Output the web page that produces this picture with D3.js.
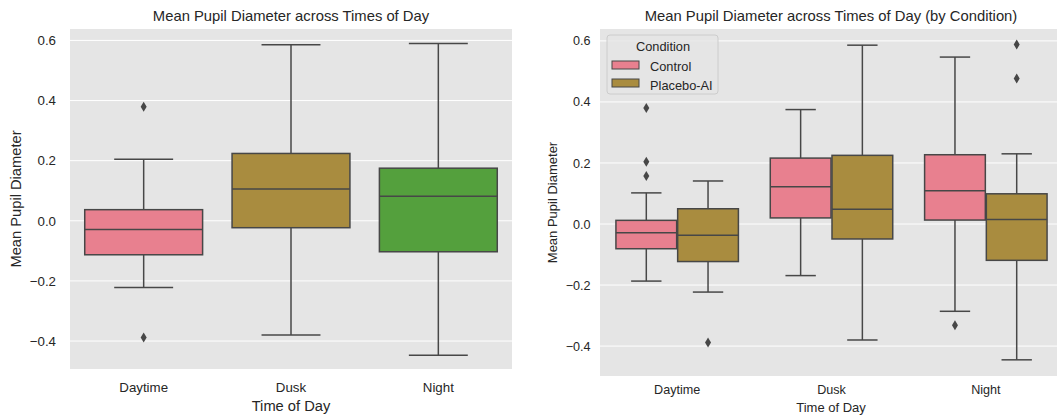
<!DOCTYPE html>
<html>
<head>
<meta charset="utf-8">
<title>Mean Pupil Diameter</title>
<style>
  body { margin: 0; background: #fff; }
  text { font-family: "Liberation Sans", Arial, sans-serif; fill: #262626; }
</style>
</head>
<body>
<svg width="1057" height="417" id="mainsvg"></svg>
<script src="https://d3js.org/d3.v7.min.js"></script>
<script>
// categories
const times = ['Daytime', 'Dusk', 'Night'];
const conditions = ['Control', 'Placebo-AI'];
const yTicks = [-0.4, -0.2, 0.0, 0.2, 0.4, 0.6];

// left panel: one box per time of day
const allLow    = [-0.222, -0.380, -0.447];
const allQ1     = [-0.113, -0.023, -0.103];
const allMedian = [-0.029,  0.106,  0.082];
const allQ3     = [ 0.037,  0.224,  0.175];
const allHigh   = [ 0.205,  0.586,  0.590];
const allOut    = [[0.379, -0.388], [], []];

// right panel: [Control, Placebo-AI] for each time of day
const condLow    = [[-0.187, -0.223], [-0.169, -0.380], [-0.286, -0.445]];
const condQ1     = [[-0.081, -0.123], [ 0.020, -0.049], [ 0.013, -0.119]];
const condMedian = [[-0.029, -0.037], [ 0.122,  0.048], [ 0.109,  0.015]];
const condQ3     = [[ 0.012,  0.050], [ 0.216,  0.225], [ 0.227,  0.099]];
const condHigh   = [[ 0.102,  0.141], [ 0.375,  0.586], [ 0.547,  0.230]];
const condOut    = [[[0.380, 0.204, 0.157], [-0.388]], [[], []], [[-0.332], [0.588, 0.477]]];

const timeColors = ['#e8808f', '#a98c3f', '#54a03d'];
const condColors = ['#e8808f', '#a98c3f'];
const lineColor = '#474747';

const svg = d3.select('#mainsvg');

function panel(opts) {
    const g = svg.append('g');
    const x = d3.scaleBand().domain(times).range([opts.x0, opts.x1]);
    const y = d3.scaleLinear().domain(opts.yDomain).range([opts.y1, opts.y0]);

    g.append('rect')
        .attr('x', opts.x0).attr('y', opts.y0)
        .attr('width', opts.x1 - opts.x0).attr('height', opts.y1 - opts.y0)
        .attr('fill', '#e5e5e5');

    g.selectAll('.grid').data(yTicks).join('line')
        .attr('x1', opts.x0).attr('x2', opts.x1)
        .attr('y1', d => y(d)).attr('y2', d => y(d))
        .attr('stroke', '#fff').attr('stroke-width', 1);

    const yAxis = g.append('g')
        .attr('transform', `translate(${opts.x0},0)`)
        .call(d3.axisLeft(y).tickValues(yTicks).tickSize(0).tickPadding(opts.yPad)
            .tickFormat(d => d3.format('.1f')(d).replace('-', '\u2212')));
    yAxis.select('.domain').remove();
    yAxis.selectAll('text').attr('font-size', opts.tickSize).attr('fill', '#262626')
        .style('font-family', '"Liberation Sans", Arial, sans-serif');

    const xAxis = g.append('g')
        .attr('transform', `translate(0,${opts.y1})`)
        .call(d3.axisBottom(x).tickSize(0).tickPadding(opts.xPad));
    xAxis.select('.domain').remove();
    xAxis.selectAll('text').attr('font-size', opts.tickSize).attr('fill', '#262626')
        .style('font-family', '"Liberation Sans", Arial, sans-serif');

    g.append('text').text(opts.title)
        .attr('x', opts.titleX).attr('y', 21)
        .attr('text-anchor', 'middle').attr('font-size', 14.8);
    g.append('text').text('Time of Day')
        .attr('x', opts.titleX).attr('y', opts.xLabelY)
        .attr('text-anchor', 'middle').attr('font-size', opts.labelSize);
    g.append('text').text('Mean Pupil Diameter')
        .attr('transform', `translate(${opts.yLabelX},${(opts.y0 + opts.y1) / 2}) rotate(-90)`)
        .attr('text-anchor', 'middle').attr('font-size', opts.labelSize);

    return { g, x, y };
}

function drawBox(g, y, cx, w, low, q1, med, q3, high, outs, color) {
    const cap = w / 2;
    g.append('line').attr('x1', cx).attr('x2', cx).attr('y1', y(q3)).attr('y2', y(high))
        .attr('stroke', lineColor).attr('stroke-width', 1.5);
    g.append('line').attr('x1', cx).attr('x2', cx).attr('y1', y(q1)).attr('y2', y(low))
        .attr('stroke', lineColor).attr('stroke-width', 1.5);
    g.append('line').attr('x1', cx - cap / 2).attr('x2', cx + cap / 2).attr('y1', y(high)).attr('y2', y(high))
        .attr('stroke', lineColor).attr('stroke-width', 1.5);
    g.append('line').attr('x1', cx - cap / 2).attr('x2', cx + cap / 2).attr('y1', y(low)).attr('y2', y(low))
        .attr('stroke', lineColor).attr('stroke-width', 1.5);
    g.append('rect').attr('x', cx - w / 2).attr('y', y(q3)).attr('width', w).attr('height', y(q1) - y(q3))
        .attr('fill', color).attr('stroke', lineColor).attr('stroke-width', 1.5);
    g.append('line').attr('x1', cx - w / 2).attr('x2', cx + w / 2).attr('y1', y(med)).attr('y2', y(med))
        .attr('stroke', lineColor).attr('stroke-width', 1.5);
    g.selectAll(null).data(outs).join('path')
        .attr('d', d => `M${cx},${y(d) - 5}L${cx + 3},${y(d)}L${cx},${y(d) + 5}L${cx - 3},${y(d)}Z`)
        .attr('fill', lineColor);
}

// left panel
const left = panel({
    x0: 70, x1: 512, y0: 29, y1: 369, yDomain: [-0.493, 0.638],
    tickSize: 13.3, labelSize: 14.7, xPad: 14, yPad: 14, xLabelY: 411, yLabelX: 21,
    title: 'Mean Pupil Diameter across Times of Day', titleX: 291
});
times.forEach((t, i) => {
    const w = left.x.bandwidth() * 0.8;
    drawBox(left.g, left.y, left.x(t) + left.x.bandwidth() / 2, w,
        allLow[i], allQ1[i], allMedian[i], allQ3[i], allHigh[i], allOut[i], timeColors[i]);
});

// right panel
const right = panel({
    x0: 600, x1: 1063, y0: 29, y1: 376, yDomain: [-0.498, 0.639],
    tickSize: 12.6, labelSize: 13, xPad: 9, yPad: 9.5, xLabelY: 412, yLabelX: 557,
    title: 'Mean Pupil Diameter across Times of Day (by Condition)', titleX: 831
});
const hue = d3.scaleBand().domain(conditions).range([0, right.x.bandwidth() * 0.8]);
times.forEach((t, i) => {
    const start = right.x(t) + right.x.bandwidth() * 0.1;
    conditions.forEach((c, j) => {
        drawBox(right.g, right.y, start + hue(c) + hue.bandwidth() / 2, hue.bandwidth() - 1,
            condLow[i][j], condQ1[i][j], condMedian[i][j], condQ3[i][j], condHigh[i][j],
            condOut[i][j], condColors[j]);
    });
});

// legend
const lg = svg.append('g').attr('transform', 'translate(607,35)');
lg.append('rect').attr('width', 111).attr('height', 59).attr('rx', 3)
    .attr('fill', '#e5e5e5').attr('fill-opacity', 0.8).attr('stroke', '#cccccc').attr('stroke-width', 1);
lg.append('text').text('Condition').attr('x', 56).attr('y', 16)
    .attr('text-anchor', 'middle').attr('font-size', 12.8);
conditions.forEach((c, j) => {
    lg.append('rect').attr('x', 5).attr('y', 26 + j * 18).attr('width', 27).attr('height', 8)
        .attr('fill', condColors[j]).attr('stroke', lineColor).attr('stroke-width', 1);
    lg.append('text').text(c).attr('x', 43).attr('y', 36 + j * 19).attr('font-size', 12.8);
});
</script>
</body>
</html>
